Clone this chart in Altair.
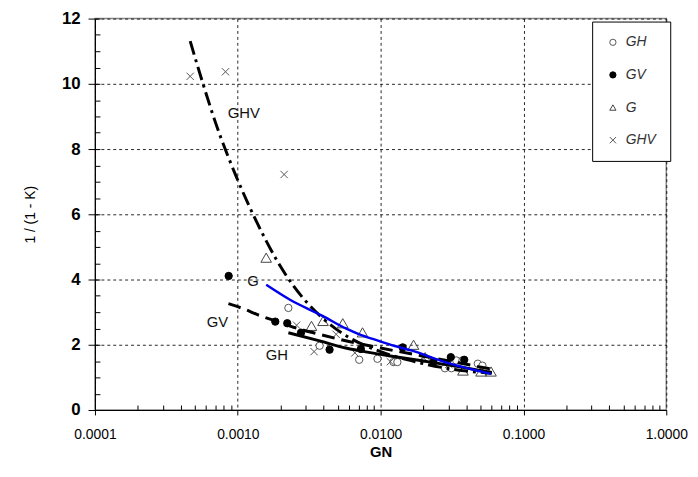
import altair as alt
import pandas as pd

# ---------------- data ----------------
series_order = ["GH", "GV", "G", "GHV"]

gh_x = [0.00226, 0.00374, 0.00708, 0.0095, 0.0123, 0.0131, 0.0282, 0.0313, 0.0338, 0.0374, 0.0479, 0.0516]
gh_y = [3.13, 1.97, 1.54, 1.57, 1.47, 1.47, 1.28, 1.28, 1.52, 1.52, 1.42, 1.36]

gv_x = [0.000863, 0.00183, 0.00222, 0.00277, 0.00439, 0.00727, 0.01427, 0.0234, 0.031, 0.0385]
gv_y = [4.11, 2.71, 2.66, 2.37, 1.85, 1.87, 1.92, 1.47, 1.62, 1.54]

g_x = [0.00158, 0.00328, 0.00395, 0.00543, 0.00747, 0.017, 0.0205, 0.0377, 0.0505, 0.0593]
g_y = [4.67, 2.58, 2.73, 2.66, 2.38, 2.0, 1.62, 1.21, 1.18, 1.18]

ghv_x = [0.000464, 0.00082, 0.00211, 0.00258, 0.00342, 0.00488, 0.0066, 0.0117, 0.02, 0.03]
ghv_y = [10.23, 10.37, 7.22, 2.6, 1.79, 2.32, 1.75, 1.48, 1.6, 1.4]

# trend curves, points
c_ghv_x = [0.000464, 0.000568, 0.000702, 0.000966, 0.001294, 0.001557, 0.001876, 0.002448,
           0.003027, 0.003845, 0.004882, 0.0062, 0.009688, 0.01747, 0.0387, 0.06]
c_ghv_y = [11.31, 10.03, 8.78, 7.20, 5.95, 5.24, 4.59, 3.81,
           3.31, 2.85, 2.48, 2.19, 1.81, 1.48, 1.2, 1.13]

c_g_x = [0.00158, 0.00232, 0.00395, 0.0057, 0.0071, 0.0097, 0.0124, 0.0166, 0.0282, 0.0592]
c_g_y = [3.84, 3.38, 2.88, 2.5, 2.32, 2.12, 1.97, 1.82, 1.47, 1.11]

c_gv_x = [0.00086, 0.00113, 0.00136, 0.00183, 0.00272, 0.00374, 0.006, 0.01, 0.02, 0.035, 0.06]
c_gv_y = [3.26, 3.08, 2.93, 2.73, 2.48, 2.32, 2.1, 1.9, 1.65, 1.45, 1.25]

c_gh_x = [0.00226, 0.00374, 0.0057, 0.0071, 0.012, 0.02, 0.035, 0.06]
c_gh_y = [2.37, 2.12, 1.9, 1.82, 1.65, 1.5, 1.33, 1.15]

label_text = ["GHV", "G", "GV", "GH"]
label_x = [0.0011, 0.00128, 0.00072, 0.00188]
label_y = [9.09, 3.96, 2.7, 1.69]

x_major = [0.0001, 0.001, 0.01, 0.1, 1.0]
x_minor = [k * 10.0 ** e for e in (-4, -3, -2, -1) for k in range(2, 10)]
y_major = [0, 2, 4, 6, 8, 10, 12]
y_minor = [i * 0.5 for i in range(0, 25)]

# ---------------- tables ----------------
pts = pd.concat([
    pd.DataFrame({"x": gh_x, "y": gh_y, "series": "GH"}),
    pd.DataFrame({"x": gv_x, "y": gv_y, "series": "GV"}),
    pd.DataFrame({"x": ghv_x, "y": ghv_y, "series": "GHV"}),
], ignore_index=True)
tri = pd.DataFrame({"x": g_x, "y": g_y, "series": "G"})

labels = pd.DataFrame({"x": label_x, "y": label_y, "t": label_text})

FONT = "Liberation Sans"
xscale = alt.Scale(type="log", domain=[0.0001, 1.0], nice=False)
yscale = alt.Scale(domain=[0, 12], nice=False, zero=False)

x_axis = alt.Axis(values=x_major, format=".4f", title="GN", titleFontSize=15, titleFontWeight="bold",
                  titleFont=FONT, labelFont=FONT, labelFontSize=14, labelColor="#000", titleColor="#000",
                  labelPadding=13, titlePadding=3, tickSize=5, tickColor="#000", domainColor="#000",
                  grid=True, gridDash=[3, 3], gridColor="#000", gridOpacity=0.85, labelFlush=False)
y_axis = alt.Axis(values=y_major, title="1 / (1 - K)", titleFontSize=14, titleFontWeight="normal",
                  titleFont=FONT, labelFont=FONT, labelFontSize=17, labelFontWeight="bold",
                  labelColor="#000", titleColor="#000", labelPadding=8, titlePadding=24, tickSize=7,
                  tickColor="#000", domainColor="#000", grid=True, gridDash=[3, 3], gridColor="#000",
                  gridOpacity=0.85)

cross_path = "M-1,-1L1,1M-1,1L1,-1"
sc = dict(domain=series_order)

legend = alt.Legend(orient="none", legendX=503, legendY=3, padding=14,
                    strokeColor="#000", fillColor="#fff", rowPadding=19,
                    labelFont=FONT, labelFontSize=14, labelFontStyle="italic",
                    labelColor="#333", labelOffset=6, symbolSize=40, symbolStrokeWidth=1)


def point_layer(df, size, axes):
    return alt.Chart(df).mark_point(strokeWidth=1, opacity=1, size=size).encode(
        x=alt.X("x:Q", scale=xscale, axis=x_axis if axes else None),
        y=alt.Y("y:Q", scale=yscale, axis=y_axis if axes else None),
        shape=alt.Shape("series:N", sort=series_order, title=None,
                        scale=alt.Scale(range=["circle", "circle", "triangle-up", cross_path], **sc),
                        legend=legend),
        fill=alt.Fill("series:N", sort=series_order, title=None, legend=legend,
                      scale=alt.Scale(range=["#ffffff", "#000000", "transparent", "transparent"], **sc)),
        stroke=alt.Stroke("series:N", sort=series_order, title=None, legend=legend,
                          scale=alt.Scale(range=["#555555", "#000000", "#444444", "#555555"], **sc)),
    )


points = point_layer(pts, 55, True)
triangles = point_layer(tri, 115, False)


def curve(xs, ys, **kw):
    df = pd.DataFrame({"x": xs, "y": ys})
    return alt.Chart(df).mark_line(interpolate="monotone", **kw).encode(
        x=alt.X("x:Q", scale=xscale, axis=None),
        y=alt.Y("y:Q", scale=yscale, axis=None),
    )


l_ghv = curve(c_ghv_x, c_ghv_y, color="#000", strokeWidth=3, strokeDash=[14, 5, 3, 5])
l_gv = curve(c_gv_x, c_gv_y, color="#000", strokeWidth=3, strokeDash=[13, 7])
l_gh = curve(c_gh_x, c_gh_y, color="#000", strokeWidth=3)
l_g = curve(c_g_x, c_g_y, color="#0000ee", strokeWidth=2.5)

text = alt.Chart(labels).mark_text(font=FONT, fontSize=15, color="#111").encode(
    x=alt.X("x:Q", scale=xscale,
            axis=alt.Axis(orient="bottom", values=x_minor, labels=False, grid=False, domain=False,
                          ticks=True, tickSize=5, offset=-5, tickColor="#000", title=None)),
    y=alt.Y("y:Q", scale=yscale,
            axis=alt.Axis(orient="left", values=y_minor, labels=False, grid=False, domain=False,
                          ticks=True, tickSize=5, offset=-5, tickColor="#000", title=None)),
    text="t:N",
)

chart = alt.layer(points, triangles, l_ghv, l_gv, l_gh, l_g, text).resolve_axis(
    x="independent", y="independent"
).properties(
    width=578, height=396, autosize="none",
    padding={"left": 88, "top": 8, "right": 24, "bottom": 60},
).configure_view(stroke="#888888", strokeWidth=1.5)

chart.save("out.html", embed_options={"renderer": "svg", "actions": False})
